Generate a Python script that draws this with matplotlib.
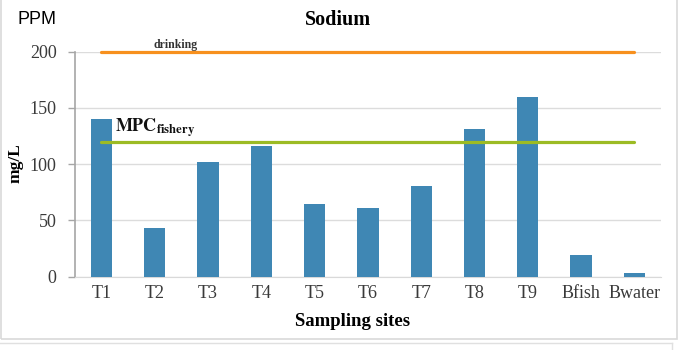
import matplotlib
matplotlib.use("Agg")
import matplotlib.pyplot as plt
from matplotlib.patches import Rectangle
from matplotlib.lines import Line2D

# Sodium concentration per sampling site (mg/L)
sites = ["T1", "T2", "T3", "T4", "T5", "T6", "T7", "T8", "T9", "Bfish", "Bwater"]
sodium = [140, 43, 102, 116, 65, 61, 81, 131, 160, 19, 3]

# guideline levels
drinking_limit = 200
mpc_fishery = 120

yticks = [0, 50, 100, 150, 200]

plt.rcParams["mathtext.fontset"] = "stix"

fig = plt.figure(figsize=(6.86, 3.5), dpi=100)
ax = fig.add_axes([0.109, 0.2094, 0.8546, 0.6429])

x = range(len(sites))
ax.bar(x, sodium, width=0.4, color="#3f87b4", zorder=3)

# limit lines go from first to last site
ax.plot([0, len(sites) - 1], [drinking_limit, drinking_limit], color="#f7901e",
        lw=2.3, solid_capstyle="round", zorder=4, clip_on=False)
ax.plot([0, len(sites) - 1], [mpc_fishery, mpc_fishery], color="#9cbb24",
        lw=2.3, solid_capstyle="round", zorder=4)

ax.text(0.97, drinking_limit + 0.8, "drinking", fontsize=8.5, fontweight="bold",
        family="Liberation Serif", color="#333333", va="bottom", ha="left")
ax.text(0.25, mpc_fishery + 2, r"$\mathbf{MPC_{fishery}}$", fontsize=13,
        color="#111111", va="bottom", ha="left")

ax.set_xlim(-0.5, len(sites) - 0.5)
ax.set_ylim(0, 200)
ax.set_yticks(yticks)
ax.set_xticks(list(x))
ax.set_xticklabels(sites)
for lab in ax.get_xticklabels() + ax.get_yticklabels():
    lab.set_family("Liberation Serif")
    lab.set_fontsize(13)
    lab.set_color("#3a3a3a")

ax.grid(axis="y", color="#dcdcdc", lw=1, zorder=0)
ax.tick_params(axis="x", length=0, pad=6)
ax.tick_params(axis="y", length=5, width=1, color="#a6a6a6", pad=8)
for s in ["top", "right"]:
    ax.spines[s].set_visible(False)
ax.spines["bottom"].set_color("#d9d9d9")
ax.spines["left"].set_color("#a6a6a6")
ax.spines["left"].set_linewidth(1.2)

# axis titles placed as in the source figure
fig.text(353 / 686, 1 - 322 / 350, "Sampling sites", family="Liberation Serif",
         fontweight="bold", fontsize=13.5, ha="center", va="center")
fig.text(0.022, 0.534, "mg/L", rotation=90, family="Liberation Serif",
         fontweight="bold", fontsize=12.5, ha="center", va="center")

fig.text(0.493, 0.943, "Sodium", family="Liberation Serif", fontweight="bold",
         fontsize=14.5, ha="center", va="center")
fig.text(0.025, 0.943, "PPM", family="Liberation Sans", fontsize=13,
         ha="left", va="center")

# chart frame like the original screenshot
fig.add_artist(Rectangle((0.002, 1 - 339 / 350), 677 / 686 - 0.002, 339 / 350 + 0.01,
                         transform=fig.transFigure, fill=False, ec="#d9d9d9", lw=1.2))
fig.add_artist(Line2D([0.0, 672 / 686], [1 - 343 / 350] * 2,
                      transform=fig.transFigure, color="#e0e0e0", lw=1))
fig.add_artist(Line2D([672 / 686] * 2, [1 - 343 / 350, 0],
                      transform=fig.transFigure, color="#e0e0e0", lw=1))

fig.savefig("out.png", dpi=100)
